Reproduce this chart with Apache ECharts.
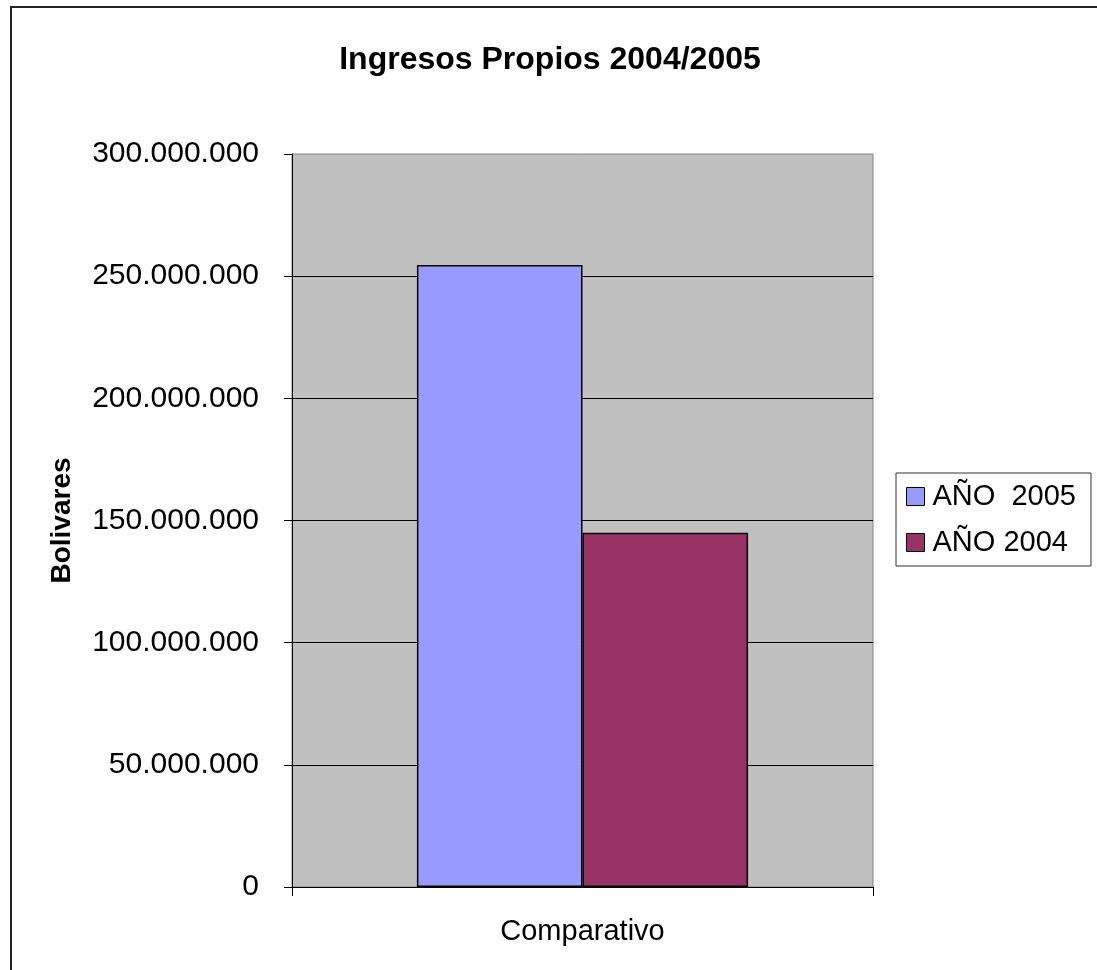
<!DOCTYPE html>
<html>
<head>
<meta charset="utf-8">
<script src="https://cdn.jsdelivr.net/npm/echarts@6/dist/echarts.min.js"></script>
<style>
html,body{margin:0;padding:0;background:#fff;}
#c{width:1097px;height:970px;}
</style>
</head>
<body>
<div id="c"></div>
<script>
const categories = ['Comparativo'];
const seriesNames = ['AÑO  2005', 'AÑO 2004'];
const values2005 = [254600000];
const values2004 = [145000000];
const yMin = 0, yMax = 300000000, yInterval = 50000000;

function fmt(v){
  return String(Math.round(v)).replace(/\B(?=(\d{3})+(?!\d))/g, '.');
}

const chart = echarts.init(document.getElementById('c'), null, {renderer:'canvas'});
const FONT = '"Liberation Sans", Arial, sans-serif';
chart.setOption({
  backgroundColor: '#fff',
  animation: false,
  textStyle: {fontFamily: FONT},
  title: {
    text: 'Ingresos Propios 2004/2005',
    left: 545, top: 39, textAlign: 'center',
    textStyle: {fontFamily: FONT, fontSize: 32, fontWeight: 'bold', color: '#000'}
  },
  graphic: [{
    type: 'rect', silent: true, z: -1,
    shape: {x: 11, y: 7, width: 1200, height: 1100},
    style: {fill: 'none', stroke: '#222', lineWidth: 2}
  }],
  legend: {
    orient: 'vertical',
    left: 896, top: 473,
    padding: [9, 15, 9, 10],
    itemGap: 17,
    itemWidth: 18, itemHeight: 18,
    icon: 'rect',
    borderColor: '#333', borderWidth: 1,
    backgroundColor: '#fff',
    textStyle: {fontFamily: FONT, fontSize: 29, color: '#000', padding: [0,0,0,3]},
    itemStyle: {borderColor: '#000', borderWidth: 1},
    data: seriesNames
  },
  grid: {
    left: 292, right: 224, top: 154, bottom: 83,
    show: true, backgroundColor: '#C0C0C0', borderColor: '#808080', borderWidth: 1,
    containLabel: false
  },
  xAxis: {
    type: 'category',
    data: categories,
    boundaryGap: true,
    axisLine: {show: true, lineStyle: {color: '#000', width: 1}},
    axisTick: {show: true, length: 9, lineStyle: {color: '#000'}},
    axisLabel: {fontFamily: FONT, fontSize: 29, color: '#000', margin: 30},
    splitLine: {show: false}
  },
  yAxis: {
    type: 'value',
    min: yMin, max: yMax, interval: yInterval,
    name: 'Bolivares',
    nameLocation: 'middle',
    nameRotate: 90,
    nameGap: 216,
    nameTextStyle: {fontFamily: FONT, fontSize: 28, fontWeight: 'bold', color: '#000'},
    axisLine: {show: true, lineStyle: {color: '#000', width: 1}},
    axisTick: {show: true, length: 8, inside: false, lineStyle: {color: '#000'}},
    axisLabel: {fontFamily: FONT, fontSize: 30, color: '#000', margin: 33, formatter: fmt},
    splitLine: {show: true, showMaxLine: false, lineStyle: {color: '#000', width: 1}}
  },
  series: [
    {
      name: seriesNames[0], type: 'bar', data: values2005,
      barGap: '0%', barCategoryGap: '43%',
      itemStyle: {color: '#9999FF', borderColor: '#000', borderWidth: 1.5}
    },
    {
      name: seriesNames[1], type: 'bar', data: values2004,
      barGap: '0%', barCategoryGap: '43%',
      itemStyle: {color: '#993366', borderColor: '#000', borderWidth: 1.5}
    }
  ]
});
</script>
</body>
</html>
